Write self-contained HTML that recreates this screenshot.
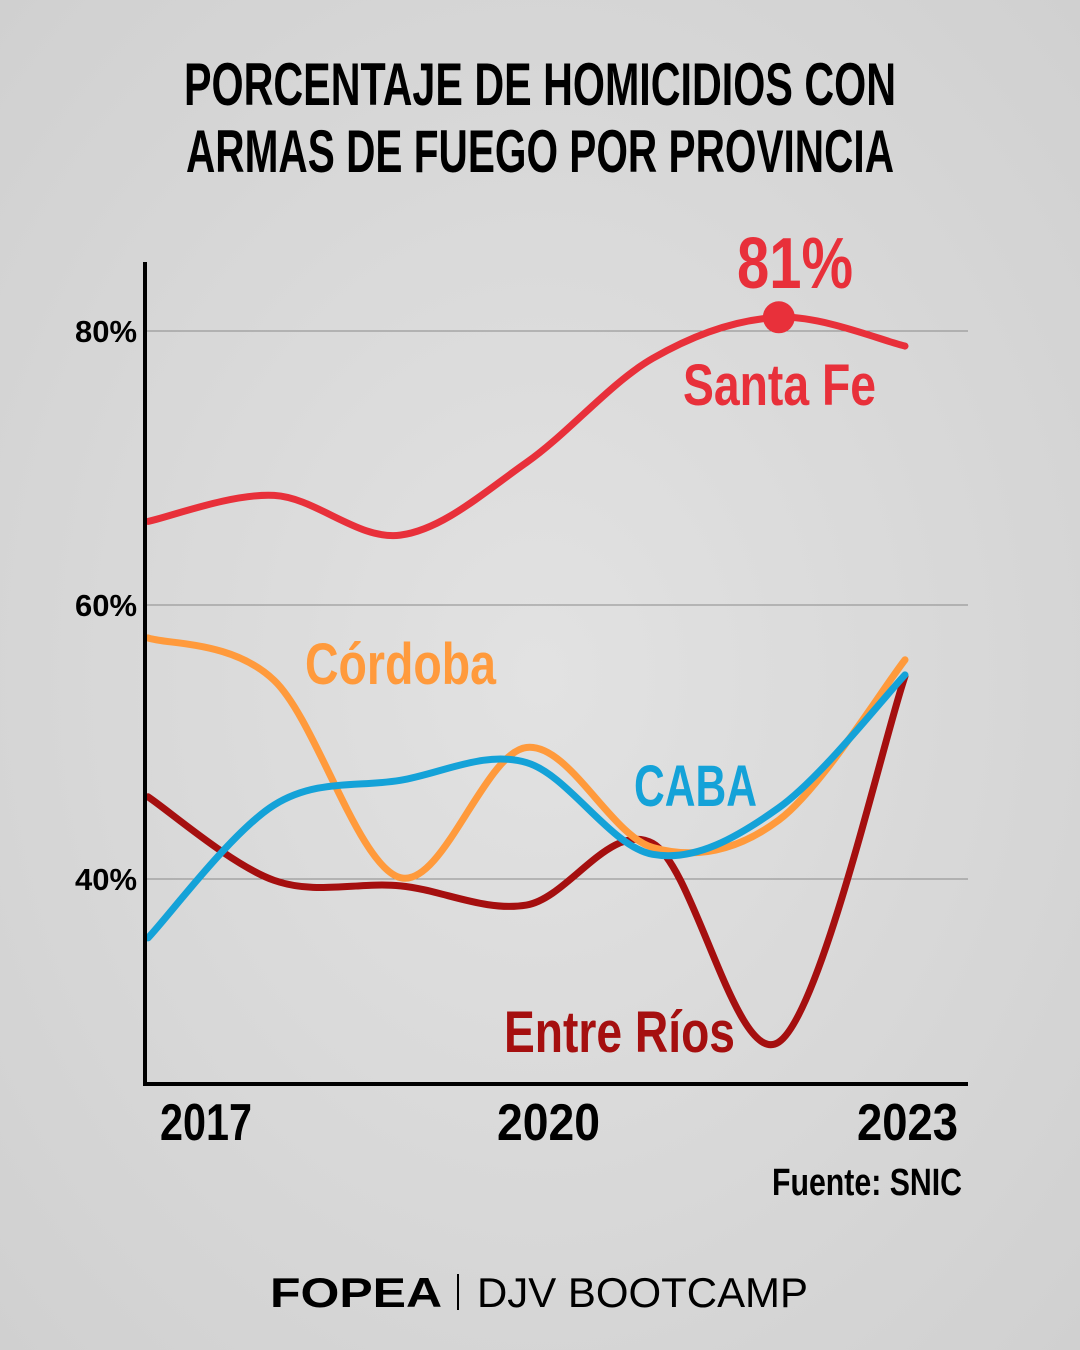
<!DOCTYPE html>
<html><head><meta charset="utf-8">
<style>
html,body{margin:0;padding:0;background:#d9d9d9;}
svg{display:block;}
text{font-family:"Liberation Sans Narrow","Liberation Sans",sans-serif;font-weight:bold;}
</style></head>
<body>
<svg id="chart" width="1080" height="1350" viewBox="0 0 1080 1350">
<defs>
<radialGradient id="bg" cx="50%" cy="50%" r="75%">
<stop offset="0" stop-color="#e2e2e2"/><stop offset="1" stop-color="#cfcfcf"/>
</radialGradient>
</defs>
<rect width="1080" height="1350" fill="url(#bg)"/>
<g>
<text x="540" y="105" text-anchor="middle" font-size="60" textLength="712" lengthAdjust="spacingAndGlyphs" fill="#000">PORCENTAJE DE HOMICIDIOS CON</text>
<text x="540" y="172" text-anchor="middle" font-size="60" textLength="708" lengthAdjust="spacingAndGlyphs" fill="#000">ARMAS DE FUEGO POR PROVINCIA</text>
</g>
<g id="grid"></g>
<g id="series"></g>
<g id="axes"></g>
<text x="962" y="1195" text-anchor="end" font-size="38" textLength="190" lengthAdjust="spacingAndGlyphs" fill="#000">Fuente: SNIC</text>
<g>
<text x="270" y="1307" font-size="42" textLength="172" lengthAdjust="spacingAndGlyphs" fill="#000" style="font-family:'Liberation Sans',sans-serif">FOPEA</text>
<rect x="457" y="1274" width="2" height="36" fill="#000"/>
<text x="477" y="1307" font-size="42" textLength="331" lengthAdjust="spacingAndGlyphs" fill="#000" style="font-family:'Liberation Sans',sans-serif;font-weight:normal">DJV BOOTCAMP</text>
</g>
</svg>
<script>
const years=[2017,2018,2019,2020,2021,2022,2023];
const santaFe=[66.1,68,65.1,70.4,78,81,78.9];
const cordoba=[57.6,54.5,40.1,49.6,42.3,44.3,56];
const caba=[35.7,45.4,47.2,48.5,41.8,45.2,54.9];
const entreRios=[46,39.9,39.5,38.1,42.6,28.1,54.8];
const yTicks=[40,60,80];
const xTicks=[2017,2020,2023];
const NS="http://www.w3.org/2000/svg";
function x(v){return 148+(v-2017)*(905-148)/6;}
function y(v){return 879-(v-40)*(879-331)/40;}
function mk(tag,attrs,parent){const e=document.createElementNS(NS,tag);for(const k in attrs)e.setAttribute(k,attrs[k]);parent.appendChild(e);return e;}
const grid=document.getElementById('grid'),axes=document.getElementById('axes'),ser=document.getElementById('series');
yTicks.forEach(t=>{
 const l=mk('line',{x1:145,x2:968,y1:y(t),y2:y(t),stroke:'#8a8a8a','stroke-width':1},grid);
 
 
 const tx=mk('text',{x:75,y:y(t)+11,'font-size':31,fill:'#000',textLength:62,lengthAdjust:'spacingAndGlyphs'},axes);
 tx.textContent=t+'%';
 
 
});
const xTickPos=[[160,92],[497,103],[857,101]];
xTicks.forEach((t,i)=>{
 const tx=mk('text',{x:xTickPos[i][0],y:1140,'font-size':52,fill:'#000',textLength:xTickPos[i][1],lengthAdjust:'spacingAndGlyphs'},axes);
 tx.textContent=t;
 
 
});
const ya=mk('line',{x1:145,x2:145,y1:262,y2:1086,stroke:'#000','stroke-width':4},axes);


const xa=mk('line',{x1:143,x2:968,y1:1084,y2:1084,stroke:'#000','stroke-width':4},axes);


function pathD(vals){
 const p=vals.map((v,i)=>[x(years[i]),y(v)]);
 let d='M'+p[0][0]+','+p[0][1];
 for(let i=0;i<p.length-1;i++){
  const p0=p[i-1]||p[i],p1=p[i],p2=p[i+1],p3=p[i+2]||p2;
  const c1=[p1[0]+(p2[0]-p0[0])/6,p1[1]+(p2[1]-p0[1])/6];
  const c2=[p2[0]-(p3[0]-p1[0])/6,p2[1]-(p3[1]-p1[1])/6];
  d+=' C'+c1+' '+c2+' '+p2;
 }
 return d;
}
const series=[
 ['entre-rios',entreRios,'#a50f0f'],
 ['cordoba',cordoba,'#ff9a3c'],
 ['caba',caba,'#14a2d8'],
 ['santa-fe',santaFe,'#e8303a']
];
series.forEach(s=>{
 const p=mk('path',{d:pathD(s[1]),fill:'none',stroke:s[2],'stroke-width':7,'stroke-linecap':'round'},ser);
 
 
});
const pk=mk('circle',{cx:x(2022),cy:y(santaFe[5]),r:16,fill:'#e8303a'},ser);


const labels=[
 ['label-peak','81%',737,288,72,'#e8303a',116],
 ['label-santa-fe','Santa Fe',683,405,58,'#e8303a',193],
 ['label-cordoba','Córdoba',305,684,58,'#ff9a3c',191],
 ['label-caba','CABA',634,806,58,'#14a2d8',123],
 ['label-entre-rios','Entre Ríos',504,1052,58,'#a50f0f',231]
];
labels.forEach(l=>{
 const t=mk('text',{x:l[2],y:l[3],'font-size':l[4],fill:l[5],textLength:l[6],lengthAdjust:'spacingAndGlyphs'},ser);
 t.textContent=l[1];
 
 
});
</script>
</body></html>
